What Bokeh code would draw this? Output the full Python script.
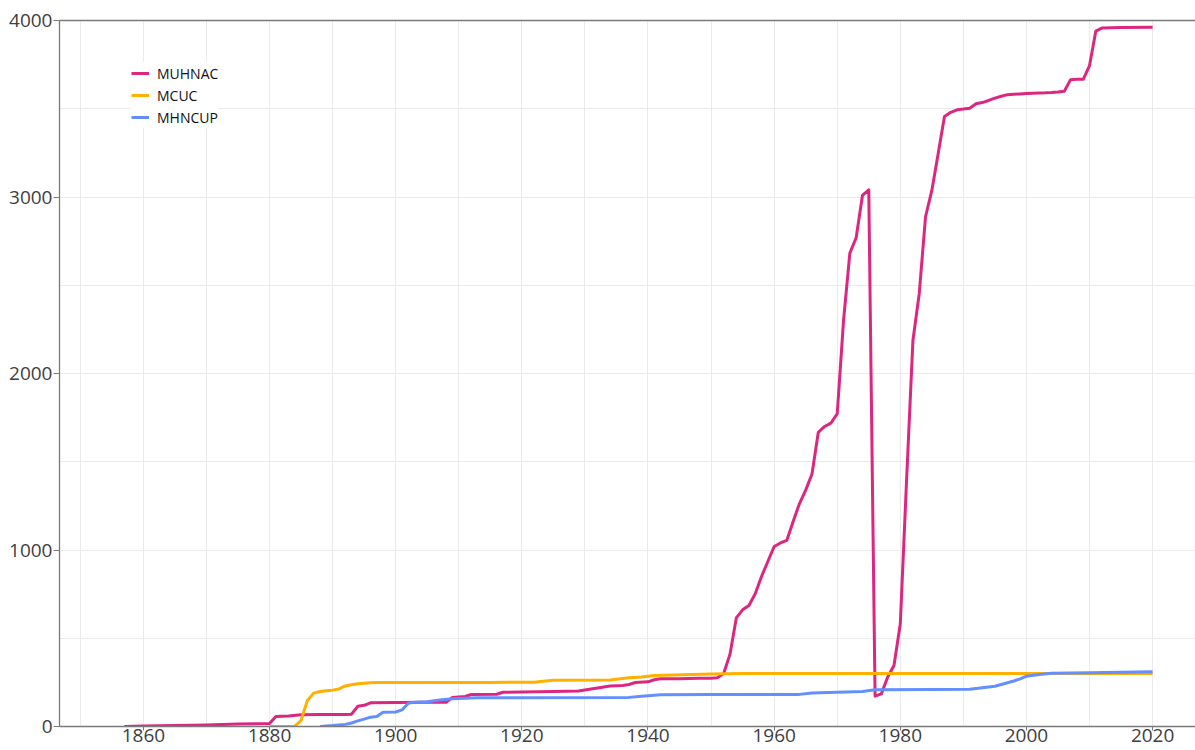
from bokeh.plotting import figure
from bokeh.models import Range1d, LinearAxis, SingleIntervalTicker, FixedTicker, Legend, LegendItem
from bokeh.embed import file_html
from bokeh.resources import INLINE

# ---- data ----
muhnac_years = [1857, 1860, 1865, 1870, 1875, 1880, 1881, 1883, 1885, 1888, 1892, 1893, 1894, 1895,
                1896, 1900, 1905, 1908, 1909, 1911, 1912, 1916, 1917, 1920, 1925, 1929, 1931, 1933,
                1934, 1936, 1937, 1938, 1940, 1941, 1942, 1945, 1948, 1950, 1951, 1952, 1953, 1954,
                1955, 1956, 1957, 1958, 1959, 1960, 1961, 1962, 1963, 1964, 1965, 1966, 1967, 1968,
                1969, 1970, 1971, 1972, 1973, 1974, 1975, 1976, 1977, 1978, 1979, 1980, 1981, 1982,
                1983, 1984, 1985, 1986, 1987, 1988, 1989, 1990, 1991, 1992, 1993, 1994, 1995, 1996,
                1997, 1998, 2000, 2001, 2003, 2004, 2005, 2006, 2007, 2008, 2009, 2010, 2011, 2012,
                2015, 2020]
muhnac_values = [0, 3, 6, 9, 14, 17, 57, 60, 66, 68, 68, 70, 115, 120,
                 134, 136, 137, 137, 164, 170, 181, 183, 194, 196, 198, 201, 212, 224,
                 229, 232, 238, 249, 253, 265, 270, 271, 273, 274, 276, 300, 410, 615,
                 661, 686, 752, 850, 935, 1020, 1040, 1054, 1160, 1262, 1339, 1431, 1667, 1700,
                 1719, 1772, 2300, 2682, 2769, 3009, 3041, 172, 185, 280, 346, 582, 1400, 2187,
                 2452, 2888, 3037, 3245, 3456, 3480, 3494, 3498, 3503, 3528, 3535, 3547, 3560, 3571,
                 3580, 3582, 3586, 3588, 3590, 3592, 3595, 3599, 3665, 3667, 3667, 3745, 3940, 3958,
                 3960, 3962]

mcuc_years = [1880, 1884, 1885, 1886, 1887, 1888, 1889, 1890, 1891, 1892, 1893, 1894, 1895, 1896,
              1897, 1905, 1915, 1922, 1923, 1925, 1934, 1935, 1937, 1939, 1941, 1944, 1947, 1950,
              1955, 2020]
mcuc_values = [0, 2, 34, 147, 189, 198, 203, 206, 213, 230, 236, 242, 245, 248,
               249, 249, 250, 251, 255, 262, 263, 268, 276, 280, 289, 292, 295, 298,
               300, 300]

mhncup_years = [1888, 1890, 1892, 1893, 1894, 1895, 1896, 1897, 1898, 1900, 1901, 1902, 1903, 1905,
                1907, 1909, 1913, 1937, 1939, 1942, 1950, 1964, 1966, 1974, 1976, 1985, 1991, 1993,
                1995, 1996, 1998, 1999, 2000, 2002, 2004, 2010, 2020]
mhncup_values = [0, 5, 12, 20, 32, 42, 53, 57, 81, 82, 94, 132, 138, 140,
                 150, 157, 163, 165, 172, 180, 181, 182, 190, 198, 208, 210, 211, 219,
                 228, 238, 258, 270, 285, 295, 302, 305, 310]

series_names = ["MUHNAC", "MCUC", "MHNCUP"]
series_colors = ["#dc267f", "#ffb000", "#648fff"]

FONT = "Open Sans"

p = figure(width=1195, height=750, output_backend="svg", toolbar_location=None,
           x_range=Range1d(1846.7, 2026.8), y_range=Range1d(0, 4000),
           min_border_left=59, min_border_right=0, min_border_top=20, min_border_bottom=24,
           background_fill_color="white", border_fill_color="white")
p.outline_line_color = None

# axes
p.xaxis.ticker = SingleIntervalTicker(interval=20, num_minor_ticks=2)
p.yaxis.ticker = SingleIntervalTicker(interval=1000, num_minor_ticks=2)
for ax in (p.xaxis, p.yaxis):
    ax.axis_line_color = "#7a7a7a"
    ax.axis_line_width = 1.3
    ax.major_tick_line_color = "#7a7a7a"
    ax.minor_tick_line_color = None
    ax.major_label_text_font = FONT
    ax.major_label_text_font_size = "19px"
    ax.major_label_text_color = "#404040"
p.xaxis.major_tick_out = 4
p.xaxis.major_tick_in = 0
p.xaxis.major_label_standoff = -2
p.yaxis.major_tick_out = 6
p.yaxis.major_tick_in = 0
p.yaxis.major_label_standoff = 1

top_axis = LinearAxis(ticker=FixedTicker(ticks=[]), axis_line_color="#7a7a7a", axis_line_width=1.3,
                      major_tick_out=0, major_tick_in=0, minor_tick_out=0, minor_tick_in=0,
                      major_label_standoff=0, major_label_text_font_size="0px")
p.add_layout(top_axis, "above")

# grids
for g in (p.xgrid, p.ygrid):
    g.grid_line_color = "#ebebeb"
    g.minor_grid_line_color = "#ebebeb"
    g.grid_line_width = 1
    g.minor_grid_line_width = 1

renderers = []
for xs, ys, c in [(muhnac_years, muhnac_values, series_colors[0]),
                  (mcuc_years, mcuc_values, series_colors[1]),
                  (mhncup_years, mhncup_values, series_colors[2])]:
    r = p.line(xs, ys, line_color=c, line_width=3, line_join="round")
    renderers.append(r)

legend = Legend(items=[LegendItem(label=n, renderers=[r]) for n, r in zip(series_names, renderers)],
                location=(72, 598), background_fill_color="white", background_fill_alpha=1,
                border_line_color=None, padding=5, spacing=0, margin=0,
                glyph_width=18, glyph_height=22, label_height=22, label_standoff=8,
                label_text_font=FONT, label_text_font_size="14px", label_text_color="#111111")
p.add_layout(legend)

open("out.html", "w").write(file_html(p, INLINE))
